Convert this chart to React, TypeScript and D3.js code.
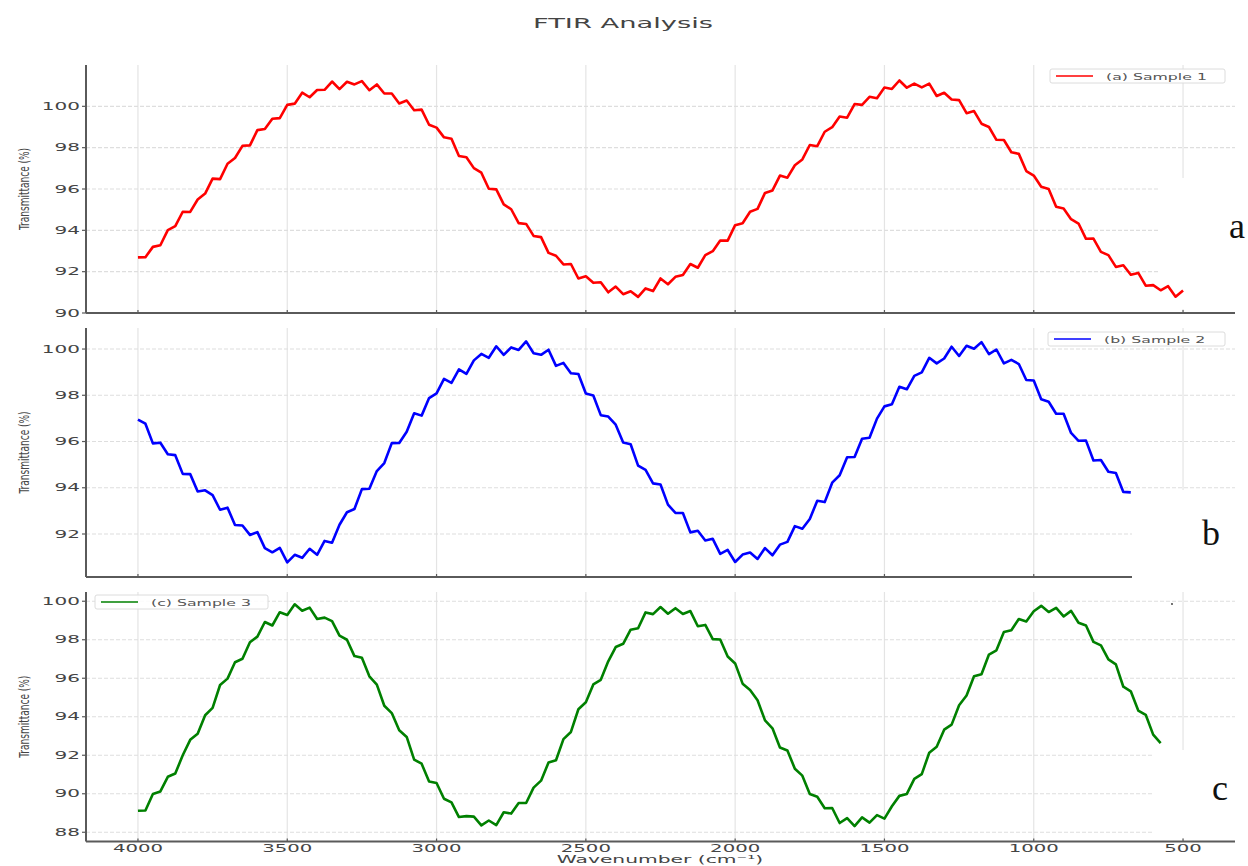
import React from "react";
import { scaleLinear, line } from "d3";

const title = "FTIR Analysis";
const xLabel = "Wavenumber (cm⁻¹)";
const yLabel = "Transmittance (%)";
const xTicks = [4000, 3500, 3000, 2500, 2000, 1500, 1000, 500];
// spectra are sampled every 25 cm-1 starting at 4000
const startWavenumber = 4000;
const stepWavenumber = 25;

const sample1 = [
  92.69, 92.7, 93.2, 93.28, 94.01, 94.2, 94.9, 94.89, 95.49, 95.78,
  96.5, 96.48, 97.22, 97.5, 98.09, 98.11, 98.85, 98.9, 99.4, 99.43,
  100.07, 100.13, 100.66, 100.44, 100.79, 100.8, 101.2, 100.83, 101.19, 101.06,
  101.22, 100.78, 101.06, 100.62, 100.62, 100.14, 100.28, 99.81, 99.84, 99.11,
  98.97, 98.5, 98.43, 97.6, 97.54, 97.01, 96.79, 96.01, 95.98, 95.26,
  95.02, 94.35, 94.31, 93.73, 93.67, 92.91, 92.77, 92.35, 92.37, 91.67,
  91.78, 91.46, 91.49, 91.0, 91.28, 90.91, 91.05, 90.78, 91.19, 91.06,
  91.67, 91.39, 91.75, 91.84, 92.37, 92.19, 92.8, 92.99, 93.51, 93.5,
  94.25, 94.34, 94.9, 95.04, 95.81, 95.93, 96.65, 96.55, 97.15, 97.43,
  98.13, 98.07, 98.77, 98.99, 99.51, 99.45, 100.11, 100.07, 100.46, 100.39,
  100.91, 100.84, 101.25, 100.9, 101.1, 100.92, 101.1, 100.5, 100.66, 100.33,
  100.3, 99.67, 99.77, 99.16, 99.0, 98.38, 98.37, 97.78, 97.7, 96.87,
  96.65, 96.11, 96.0, 95.14, 95.06, 94.54, 94.33, 93.59, 93.6, 92.96,
  92.8, 92.23, 92.31, 91.85, 91.94, 91.32, 91.35, 91.1, 91.3, 90.79,
  91.09,
];

const sample2 = [
  96.95, 96.77, 95.92, 95.95, 95.45, 95.41, 94.6, 94.59, 93.84, 93.89,
  93.68, 93.05, 93.14, 92.39, 92.37, 91.96, 92.08, 91.39, 91.21, 91.4,
  90.77, 91.1, 90.97, 91.36, 91.1, 91.7, 91.62, 92.4, 92.94, 93.08,
  93.94, 93.96, 94.72, 95.07, 95.93, 95.94, 96.42, 97.22, 97.12, 97.88,
  98.08, 98.71, 98.54, 99.12, 98.93, 99.51, 99.79, 99.62, 100.12, 99.75,
  100.07, 99.96, 100.33, 99.82, 99.75, 99.97, 99.27, 99.4, 98.95, 98.92,
  98.08, 97.99, 97.14, 97.08, 96.73, 95.96, 95.88, 94.96, 94.77, 94.19,
  94.14, 93.27, 92.91, 92.91, 92.07, 92.14, 91.72, 91.79, 91.14, 91.31,
  90.79, 91.11, 91.2, 90.92, 91.39, 91.08, 91.54, 91.66, 92.34, 92.23,
  92.65, 93.44, 93.38, 94.22, 94.54, 95.32, 95.33, 96.12, 96.16, 96.99,
  97.52, 97.61, 98.37, 98.26, 98.84, 98.99, 99.62, 99.38, 99.59, 100.1,
  99.7, 100.14, 100.01, 100.3, 99.78, 99.98, 99.38, 99.53, 99.35, 98.66,
  98.64, 97.83, 97.72, 97.2, 97.2, 96.37, 96.03, 96.04, 95.18, 95.2,
  94.69, 94.64, 93.82, 93.8,
];

const sample3 = [
  89.12, 89.13, 89.99, 90.12, 90.88, 91.05, 92.0, 92.8, 93.12, 94.08,
  94.46, 95.65, 95.98, 96.83, 97.01, 97.87, 98.16, 98.92, 98.74, 99.43,
  99.29, 99.84, 99.51, 99.67, 99.08, 99.15, 98.97, 98.21, 98.0, 97.15,
  97.06, 96.1, 95.67, 94.57, 94.19, 93.3, 92.95, 91.77, 91.56, 90.64,
  90.56, 89.74, 89.55, 88.79, 88.84, 88.81, 88.36, 88.61, 88.37, 89.04,
  88.97, 89.52, 89.52, 90.32, 90.68, 91.62, 91.74, 92.84, 93.21, 94.39,
  94.75, 95.68, 95.92, 96.88, 97.62, 97.79, 98.52, 98.6, 99.42, 99.33,
  99.7, 99.35, 99.64, 99.34, 99.49, 98.7, 98.77, 98.03, 98.01, 97.13,
  96.77, 95.72, 95.39, 94.86, 93.81, 93.4, 92.4, 92.25, 91.3, 90.94,
  89.99, 89.84, 89.25, 89.26, 88.48, 88.73, 88.32, 88.77, 88.5, 88.89,
  88.71, 89.35, 89.89, 89.99, 90.77, 91.02, 92.13, 92.44, 93.33, 93.59,
  94.6, 95.1, 96.1, 96.21, 97.23, 97.45, 98.4, 98.49, 99.08, 98.95,
  99.48, 99.76, 99.44, 99.66, 99.21, 99.5, 98.88, 98.74, 97.89, 97.71,
  96.98, 96.72, 95.56, 95.32, 94.32, 94.1, 93.07, 92.63,
];

const yTicksA = [90, 92, 94, 96, 98, 100];
const yTicksB = [92, 94, 96, 98, 100];
const yTicksC = [88, 90, 92, 94, 96, 98, 100];

const W = 1248;
const H = 866;
const LEFT = 86;
const RIGHT = 1235;
const FONT = "'DejaVu Sans', sans-serif";
const TEXT_COLOR = "#444";
const SPINE = "#5a5a5a";

const panels = [
  {
    data: sample1, color: "#ff0000", name: "(a) Sample 1", letter: "a",
    top: 65, bottom: 313, domain: [90, 102], ticks: yTicksA,
    legend: { x: 1050, y: 69, w: 175 }, letterPos: { x: 1229, y: 238 },
    patch: { x: 1160, y: 178, w: 88, h: 131, over: false }, xLabels: false,
  },
  {
    data: sample2, color: "#0000ff", name: "(b) Sample 2", letter: "b",
    top: 328, bottom: 577, domain: [90.14, 100.91], ticks: yTicksB,
    legend: { x: 1048, y: 332, w: 177 }, letterPos: { x: 1202, y: 545 },
    patch: { x: 1132, y: 490, w: 116, h: 95, over: true }, xLabels: false,
  },
  {
    data: sample3, color: "#008000", name: "(c) Sample 3", letter: "c",
    top: 592, bottom: 841.5, domain: [87.52, 100.48], ticks: yTicksC,
    legend: { x: 95, y: 595, w: 173 }, letterPos: { x: 1212, y: 800 },
    patch: { x: 1153, y: 750, w: 95, h: 88, over: false }, xLabels: true,
  },
];

// text in the source is squashed vertically, so stretch it horizontally
const SText = ({ x, y, sx = 1, size, anchor = "start", fill = TEXT_COLOR, rotate, family = FONT, dy, children }: any) => (
  <text
    transform={`translate(${x},${y}) scale(${sx},1)${rotate ? ` rotate(${rotate})` : ""}`}
    fontSize={size}
    fontFamily={family}
    textAnchor={anchor}
    fill={fill}
    dy={dy}
  >
    {children}
  </text>
);

const App = () => {
  const xScale = scaleLinear().domain([4174, 326]).range([LEFT, RIGHT]);

  return (
    <svg width={W} height={H} style={{ position: "absolute", left: 0, top: 0, background: "#fff" }}>
      <rect width={W} height={H} fill="#fff" />
      <SText x={623} y={28} sx={1.95} size={14} anchor="middle">
        {title}
      </SText>

      {panels.map((p) => {
        const yScale = scaleLinear().domain(p.domain).range([p.bottom, p.top]);
        const path = line<number>()
          .x((_, i) => xScale(startWavenumber - i * stepWavenumber))
          .y((d) => yScale(d))(p.data);
        const patch = (
          <rect x={p.patch.x} y={p.patch.y} width={p.patch.w} height={p.patch.h} fill="#fff" />
        );
        return (
          <g key={p.letter}>
            {/* grid */}
            {xTicks.map((t) => (
              <line key={"vx" + t} x1={xScale(t)} x2={xScale(t)} y1={p.top} y2={p.bottom} stroke="#e4e4e4" strokeWidth={1.2} />
            ))}
            {p.ticks.map((t) => (
              <line key={"hy" + t} x1={LEFT} x2={RIGHT} y1={yScale(t)} y2={yScale(t)} stroke="#dedede" strokeWidth={1.1} strokeDasharray="4,2" />
            ))}
            {!p.patch.over && patch}

            <path d={path || ""} fill="none" stroke={p.color} strokeWidth={2.6} strokeLinejoin="round" />

            {/* spines + ticks */}
            <line x1={LEFT} x2={LEFT} y1={p.top} y2={p.bottom} stroke={SPINE} strokeWidth={2} />
            <line x1={LEFT} x2={RIGHT} y1={p.bottom} y2={p.bottom} stroke={SPINE} strokeWidth={2} />
            {p.ticks.map((t) => (
              <g key={"ty" + t}>
                <line x1={LEFT - 4} x2={LEFT} y1={yScale(t)} y2={yScale(t)} stroke={SPINE} strokeWidth={1.2} />
                <SText x={80} y={yScale(t)} sx={2} size={10} anchor="end" dy="0.36em">
                  {t}
                </SText>
              </g>
            ))}
            {xTicks.map((t) => (
              <line key={"tx" + t} x1={xScale(t)} x2={xScale(t)} y1={p.bottom - 3} y2={p.bottom} stroke={SPINE} strokeWidth={1.2} />
            ))}
            {p.xLabels &&
              xTicks.map((t) => (
                <SText key={"lx" + t} x={xScale(t)} y={852} sx={1.97} size={10} anchor="middle">
                  {t}
                </SText>
              ))}
            <SText x={29} y={(p.top + p.bottom) / 2} sx={1.6} size={9} anchor="middle" rotate={-90}>
              {yLabel}
            </SText>

            {/* legend */}
            <rect x={p.legend.x} y={p.legend.y} width={p.legend.w} height={14} rx={2} fill="#fff" fillOpacity={0.85} stroke="#dcdcdc" strokeWidth={1} />
            <line x1={p.legend.x + 6} x2={p.legend.x + 43} y1={p.legend.y + 7} y2={p.legend.y + 7} stroke={p.color} strokeWidth={1.6} />
            <SText x={p.legend.x + 56} y={p.legend.y + 10.5} sx={1.75} size={9} fill="#555">
              {p.name}
            </SText>

            {p.patch.over && patch}
            <SText x={p.letterPos.x} y={p.letterPos.y} size={36} fill="#111" family="'Liberation Serif', 'Times New Roman', serif">
              {p.letter}
            </SText>
          </g>
        );
      })}

      <circle cx={1172} cy={604} r={0.9} fill="#333" />
      <SText x={660} y={863} sx={1.93} size={10.5} anchor="middle">
        {xLabel}
      </SText>
    </svg>
  );
};

export default App;
